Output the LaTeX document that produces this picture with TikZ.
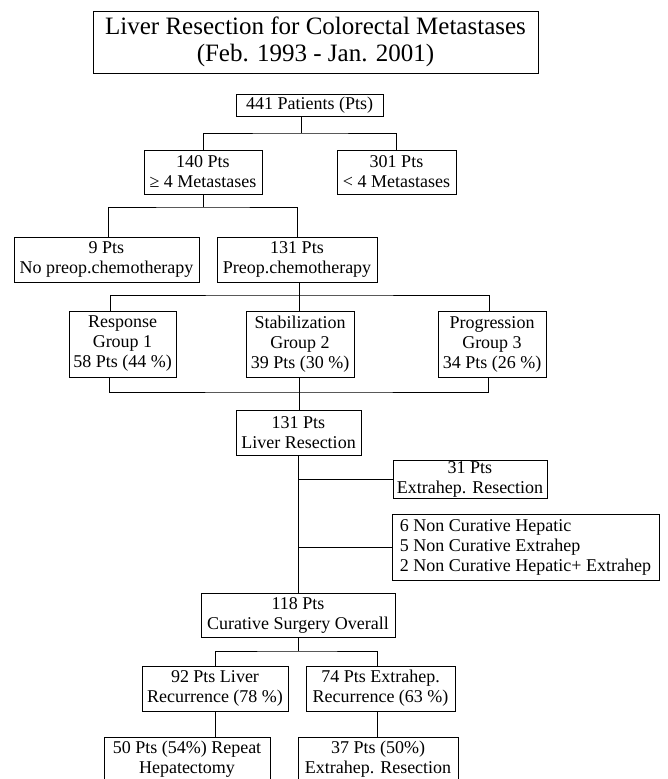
\documentclass[tikz,border=0pt]{standalone}
\usepackage{fontspec}
\setmainfont{Liberation Serif}

\begin{document}
\begin{tikzpicture}[x=1pt, y=-1pt,
  box/.style={draw, line width=0.8pt, align=center, inner sep=0pt,
    font=\fontsize{18}{20}\selectfont},
  link/.style={line width=0.8pt}]

  % Page frame
  \clip (0,0) rectangle (668,779);
  \fill[white] (0,0) rectangle (668,779);

  % Title
  \node[box, minimum width=445pt, minimum height=62pt,
    font=\fontsize{25}{27}\selectfont] (title) at (315.5,42)
    {Liver Resection for Colorectal Metastases\\(Feb. 1993 - Jan. 2001)};

  % Patient selection
  \node[box, minimum width=147pt, minimum height=22pt] (pat) at (309.5,105) {441 Patients (Pts)};
  \node[box, minimum width=118pt, minimum height=44pt] (many) at (203,172) {140 Pts\\≥ 4 Metastases};
  \node[box, minimum width=119pt, minimum height=44pt] (few) at (396.5,172) {301 Pts\\< 4 Metastases};
  \node[box, minimum width=185pt, minimum height=45pt] (nochemo) at (106.5,259.5) {9 Pts\\No preop.chemotherapy};
  \node[box, minimum width=160pt, minimum height=45pt] (chemo) at (297,259.5) {131 Pts\\Preop.chemotherapy};

  % Response groups
  \node[box, minimum width=107pt, minimum height=66pt] (resp) at (122.5,344) {Response\\Group 1\\58 Pts (44 \%)};
  \node[box, minimum width=108pt, minimum height=66pt] (stab) at (300,344) {Stabilization\\Group 2\\39 Pts (30 \%)};
  \node[box, minimum width=108pt, minimum height=66pt] (prog) at (492,344) {Progression\\Group 3\\34 Pts (26 \%)};

  % Surgery
  \node[box, minimum width=125pt, minimum height=45pt] (liver) at (298.5,432.5) {131 Pts\\Liver Resection};
  \node[box, minimum width=154pt, minimum height=38pt] (extra) at (470,479) {31 Pts\\Extrahep. Resection};
  \node[box, minimum width=267pt, minimum height=66pt, align=left] (noncur) at (525.5,547)
    {6 Non Curative Hepatic\\5 Non Curative Extrahep\\2 Non Curative Hepatic+ Extrahep};
  \node[box, minimum width=194pt, minimum height=44pt] (cur) at (298,615) {118 Pts\\Curative Surgery Overall};

  % Recurrence
  \node[box, minimum width=146pt, minimum height=45pt] (livrec) at (215,688.5) {92 Pts Liver\\Recurrence (78 \%)};
  \node[box, minimum width=149pt, minimum height=45pt] (exrec) at (380.5,688.5) {74 Pts Extrahep.\\Recurrence (63 \%)};
  \node[box, minimum width=166pt, minimum height=45pt] (rep) at (187,759.5) {50 Pts (54\%) Repeat\\Hepatectomy};
  \node[box, minimum width=160pt, minimum height=45pt] (exres) at (378,759.5) {37 Pts (50\%)\\Extrahep. Resection};

  % Fork points
  \coordinate (f1) at (301,133);
  \coordinate (f2) at (203,207);
  \coordinate (f3) at (299,295);
  \coordinate (j1) at (299,392);
  \coordinate (f4) at (298,651);

  % Connectors
  \draw[link] (f1 |- pat.south) -- (f1);
  \draw[link] (many.north) |- (f1) -| (few.north);
  \draw[link] (many.south) -- (f2);
  \draw[link] ([xshift=1.5pt]nochemo.north) |- (f2) -| (chemo.north);
  \draw[link] (f3 |- chemo.south) -- (f3);
  \draw[link] ([xshift=-12.5pt]resp.north) |- (f3) -| ([xshift=-3pt]prog.north);
  \draw[link] (f3) -- (f3 |- stab.north);
  \draw[link] ([xshift=-13.5pt]resp.south) |- (j1) -| ([xshift=-4pt]prog.south);
  \draw[link] (j1 |- stab.south) -- (j1 |- liver.north);
  \draw[link] (liver.south) -- (liver.south |- cur.north);
  \draw[link] (extra.west -| liver.south) -- (extra.west);
  \draw[link] (noncur.west -| liver.south) -- (noncur.west);
  \draw[link] (cur.south) -- (f4);
  \draw[link] (livrec.north) |- (f4) -| ([xshift=-3.5pt]exrec.north);
  \draw[link] (livrec.south) -- (livrec.south |- rep.north);
  \draw[link] ([xshift=-3.5pt]exrec.south) -- ([xshift=-3.5pt]exrec.south |- exres.north);

\end{tikzpicture}
\end{document}
